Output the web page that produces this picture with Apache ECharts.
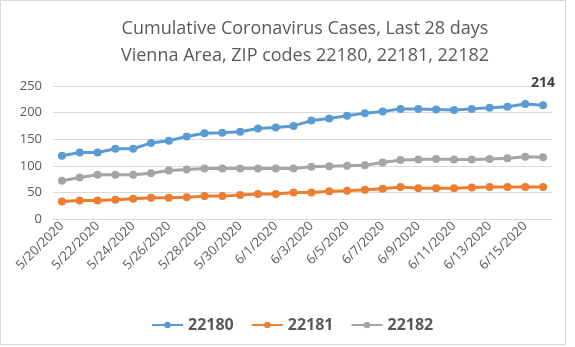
<!DOCTYPE html>
<html>
<head>
<meta charset="utf-8">
<script src="https://cdn.jsdelivr.net/npm/echarts@6/dist/echarts.min.js"></script>
<style>
html,body{margin:0;padding:0;background:#fff;}
#c{width:575px;height:347px;}
</style>
</head>
<body>
<div id="c"></div>
<script>
const dates = ['5/20/2020','5/21/2020','5/22/2020','5/23/2020','5/24/2020','5/25/2020','5/26/2020','5/27/2020','5/28/2020','5/29/2020','5/30/2020','5/31/2020','6/1/2020','6/2/2020','6/3/2020','6/4/2020','6/5/2020','6/6/2020','6/7/2020','6/8/2020','6/9/2020','6/10/2020','6/11/2020','6/12/2020','6/13/2020','6/14/2020','6/15/2020','6/16/2020'];
const zip22180 = [119,125,125,132,132,143,147,155,161,162,164,170,172,175,185,189,194,199,202,207,207,206,205,207,209,211,216,214];
const zip22181 = [33,35,35,36,38,40,40,41,43,43,45,47,47,50,50,52,53,55,57,60,58,58,58,59,60,60,60,60];
const zip22182 = [72,78,83,83,83,86,91,93,95,95,95,95,95,95,98,99,100,101,106,111,112,113,112,112,113,114,117,116];
const yTicks = [0,50,100,150,200,250];
const titleLines = ['Cumulative Coronavirus Cases, Last 28 days','Vienna Area, ZIP codes 22180, 22181, 22182'];

const FONT = '"Open Sans", "Noto Sans", sans-serif';
const chart = echarts.init(document.getElementById('c'), null, {renderer:'canvas'});
const last = zip22180.length - 1;
function mkSeries(name, data, color, lastLabel){
  return {
    name, type:'line', data: data.map((v,i)=> (lastLabel && i===last) ? {value:v, label:{show:true}} : v),
    symbol:'circle', symbolSize:8, showSymbol:true,
    lineStyle:{width:3, color}, itemStyle:{color},
    label:{show:false, position:'top', offset:[0,-6], fontFamily:FONT, fontWeight:'bold', fontSize:14, color:'#404040'},
    emphasis:{disabled:true}, animation:false
  };
}
chart.setOption({
  animation:false,
  backgroundColor:'#fff',
  title:{
    text: titleLines.join('\n'), left: 300, top: 10, textAlign:'center',
    textStyle:{fontFamily:FONT, fontSize:18, fontWeight:'normal', color:'#595959', lineHeight:27}
  },
  legend:{
    data:['22180','22181','22182'], top: 312, left: 146, itemGap: 17, itemWidth: 31, itemHeight: 8,
    textStyle:{fontFamily:FONT, fontSize:16, fontWeight:'bold', color:'#595959'}
  },
  grid:{left:53, right:23, top:86, bottom:128, containLabel:false},
  xAxis:{
    type:'category', data:dates, boundaryGap:true,
    axisLine:{show:true, lineStyle:{color:'#d9d9d9', width:1}},
    axisTick:{show:false},
    axisLabel:{interval:1, rotate:45, fontFamily:FONT, fontSize:13, color:'#595959', margin:5}
  },
  yAxis:{
    type:'value', min:yTicks[0], max:yTicks[yTicks.length-1], interval:50,
    axisLine:{show:false}, axisTick:{show:false},
    splitLine:{lineStyle:{color:'#d9d9d9', width:1}},
    axisLabel:{fontFamily:FONT, fontSize:13, color:'#595959', margin:11}
  },
  graphic:[{type:'rect', shape:{x:0.5,y:0.5,width:565,height:344}, style:{fill:null, stroke:'#d9d9d9', lineWidth:1}, silent:true}],
  series:[
    mkSeries('22180', zip22180, '#5B9BD5', true),
    mkSeries('22181', zip22181, '#ED7D31', false),
    mkSeries('22182', zip22182, '#A5A5A5', false)
  ]
});
</script>
</body>
</html>
